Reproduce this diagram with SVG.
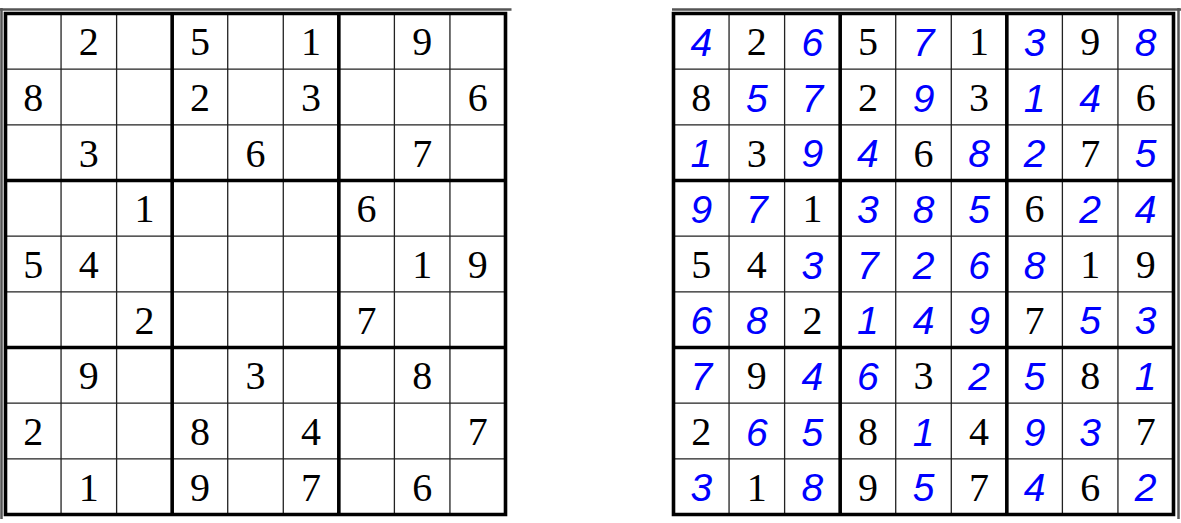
<svg xmlns="http://www.w3.org/2000/svg" width="1181" height="523" viewBox="0 0 1181 523">
<style>
.frame{stroke:#555;stroke-width:2.5;fill:none}
.thin{stroke:#222;stroke-width:1.3;fill:none}
.thick{stroke:#000;stroke-width:3.6;fill:none;stroke-linecap:square}
.g{font-family:"Liberation Serif","DejaVu Serif",serif;font-size:40px;fill:#000;text-anchor:middle}
.s{font-family:"Liberation Sans","DejaVu Sans",sans-serif;font-style:italic;font-size:39px;fill:#0000ff;text-anchor:middle}
</style>
<rect width="1181" height="523" fill="#fff"/>
<g id="frames">
<path class="frame" d="M0,9.5 H511.5 M1.5,8 V519"/>
<path class="frame" d="M672,9.5 H1181 M1178.5,8 V519"/>
</g>
<g id="puzzle">
<path class="thin" d="M61.06,13.5V514.5M116.61,13.5V514.5M227.72,13.5V514.5M283.28,13.5V514.5M394.39,13.5V514.5M449.94,13.5V514.5M5.5,69.17H505.5M5.5,124.83H505.5M5.5,236.17H505.5M5.5,291.83H505.5M5.5,403.17H505.5M5.5,458.83H505.5"/>
<path class="thick" d="M5.5,13.5H505.5V514.5H5.5Z M172.17,13.5V514.5 M338.83,13.5V514.5 M5.5,180.5H505.5 M5.5,347.5H505.5"/>
<g class="g" transform="translate(0,1.5)">
<text x="88.8" y="53.8">2</text><text x="199.9" y="53.8">5</text><text x="311.1" y="53.8">1</text><text x="422.2" y="53.8">9</text>
<text x="33.3" y="109.5">8</text><text x="199.9" y="109.5">2</text><text x="311.1" y="109.5">3</text><text x="477.7" y="109.5">6</text>
<text x="88.8" y="165.2">3</text><text x="255.5" y="165.2">6</text><text x="422.2" y="165.2">7</text>
<text x="144.4" y="220.8">1</text><text x="366.6" y="220.8">6</text>
<text x="33.3" y="276.5">5</text><text x="88.8" y="276.5">4</text><text x="422.2" y="276.5">1</text><text x="477.7" y="276.5">9</text>
<text x="144.4" y="332.2">2</text><text x="366.6" y="332.2">7</text>
<text x="88.8" y="387.8">9</text><text x="255.5" y="387.8">3</text><text x="422.2" y="387.8">8</text>
<text x="33.3" y="443.5">2</text><text x="199.9" y="443.5">8</text><text x="311.1" y="443.5">4</text><text x="477.7" y="443.5">7</text>
<text x="88.8" y="499.2">1</text><text x="199.9" y="499.2">9</text><text x="311.1" y="499.2">7</text><text x="422.2" y="499.2">6</text>
</g>
</g>
<g id="solution">
<path class="thin" d="M729.06,13.5V514.5M784.61,13.5V514.5M895.72,13.5V514.5M951.28,13.5V514.5M1062.39,13.5V514.5M1117.94,13.5V514.5M673.5,69.17H1173.5M673.5,124.83H1173.5M673.5,236.17H1173.5M673.5,291.83H1173.5M673.5,403.17H1173.5M673.5,458.83H1173.5"/>
<path class="thick" d="M673.5,13.5H1173.5V514.5H673.5Z M840.17,13.5V514.5 M1006.83,13.5V514.5 M673.5,180.5H1173.5 M673.5,347.5H1173.5"/>
<g class="g" transform="translate(0,1.5)">
<text x="756.8" y="53.8">2</text><text x="867.9" y="53.8">5</text><text x="979.1" y="53.8">1</text><text x="1090.2" y="53.8">9</text>
<text x="701.3" y="109.5">8</text><text x="867.9" y="109.5">2</text><text x="979.1" y="109.5">3</text><text x="1145.7" y="109.5">6</text>
<text x="756.8" y="165.2">3</text><text x="923.5" y="165.2">6</text><text x="1090.2" y="165.2">7</text>
<text x="812.4" y="220.8">1</text><text x="1034.6" y="220.8">6</text>
<text x="701.3" y="276.5">5</text><text x="756.8" y="276.5">4</text><text x="1090.2" y="276.5">1</text><text x="1145.7" y="276.5">9</text>
<text x="812.4" y="332.2">2</text><text x="1034.6" y="332.2">7</text>
<text x="756.8" y="387.8">9</text><text x="923.5" y="387.8">3</text><text x="1090.2" y="387.8">8</text>
<text x="701.3" y="443.5">2</text><text x="867.9" y="443.5">8</text><text x="979.1" y="443.5">4</text><text x="1145.7" y="443.5">7</text>
<text x="756.8" y="499.2">1</text><text x="867.9" y="499.2">9</text><text x="979.1" y="499.2">7</text><text x="1090.2" y="499.2">6</text>
</g>
<g class="s" transform="translate(0,2.2)">
<text x="701.3" y="53.8">4</text><text x="812.4" y="53.8">6</text><text x="923.5" y="53.8">7</text><text x="1034.6" y="53.8">3</text><text x="1145.7" y="53.8">8</text>
<text x="756.8" y="109.5">5</text><text x="812.4" y="109.5">7</text><text x="923.5" y="109.5">9</text><text x="1034.6" y="109.5">1</text><text x="1090.2" y="109.5">4</text>
<text x="701.3" y="165.2">1</text><text x="812.4" y="165.2">9</text><text x="867.9" y="165.2">4</text><text x="979.1" y="165.2">8</text><text x="1034.6" y="165.2">2</text><text x="1145.7" y="165.2">5</text>
<text x="701.3" y="220.8">9</text><text x="756.8" y="220.8">7</text><text x="867.9" y="220.8">3</text><text x="923.5" y="220.8">8</text><text x="979.1" y="220.8">5</text><text x="1090.2" y="220.8">2</text><text x="1145.7" y="220.8">4</text>
<text x="812.4" y="276.5">3</text><text x="867.9" y="276.5">7</text><text x="923.5" y="276.5">2</text><text x="979.1" y="276.5">6</text><text x="1034.6" y="276.5">8</text>
<text x="701.3" y="332.2">6</text><text x="756.8" y="332.2">8</text><text x="867.9" y="332.2">1</text><text x="923.5" y="332.2">4</text><text x="979.1" y="332.2">9</text><text x="1090.2" y="332.2">5</text><text x="1145.7" y="332.2">3</text>
<text x="701.3" y="387.8">7</text><text x="812.4" y="387.8">4</text><text x="867.9" y="387.8">6</text><text x="979.1" y="387.8">2</text><text x="1034.6" y="387.8">5</text><text x="1145.7" y="387.8">1</text>
<text x="756.8" y="443.5">6</text><text x="812.4" y="443.5">5</text><text x="923.5" y="443.5">1</text><text x="1034.6" y="443.5">9</text><text x="1090.2" y="443.5">3</text>
<text x="701.3" y="499.2">3</text><text x="812.4" y="499.2">8</text><text x="923.5" y="499.2">5</text><text x="1034.6" y="499.2">4</text><text x="1145.7" y="499.2">2</text>
</g>
</g>
</svg>
